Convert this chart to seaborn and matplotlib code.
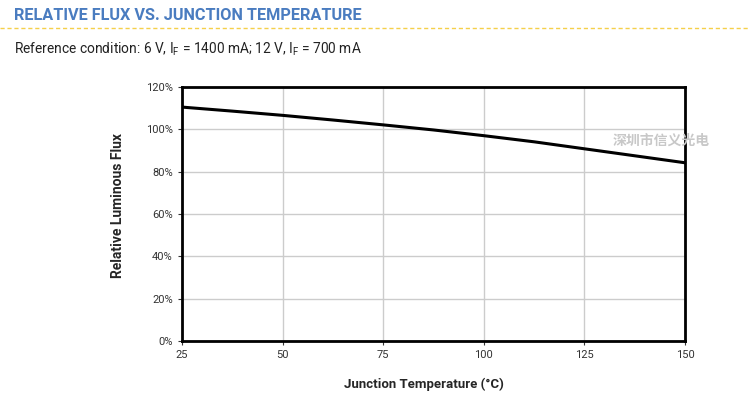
import matplotlib
matplotlib.use('Agg')
import matplotlib.pyplot as plt
import pandas as pd
import seaborn as sns
from matplotlib.lines import Line2D
from matplotlib.ticker import PercentFormatter

# Data
temperature = [25, 37.5, 50, 62.5, 75, 87.5, 100, 112.5, 125, 137.5, 150]
rel_flux = [110.5, 108.6, 106.6, 104.4, 102.1, 99.7, 97.0, 94.1, 90.8, 87.5, 84.2]
x_ticks = [25, 50, 75, 100, 125, 150]
y_ticks = [0, 20, 40, 60, 80, 100, 120]

df = pd.DataFrame({'temp': temperature, 'flux': rel_flux})

sns.set_style('white')
plt.rcParams['font.family'] = ['Roboto', 'DejaVu Sans']

fig = plt.figure(figsize=(7.5, 4.17), dpi=100)
ax = fig.add_axes([0.2427, 0.1823, 0.6706, 0.6091])

sns.lineplot(data=df, x='temp', y='flux', ax=ax, color='black', linewidth=2.2)

ax.set_xlim(25, 150)
ax.set_ylim(0, 120)
ax.set_xticks(x_ticks)
ax.set_yticks(y_ticks)
ax.yaxis.set_major_formatter(PercentFormatter(decimals=0))
ax.grid(True, color='#cccccc', linewidth=1)
ax.tick_params(axis='both', labelsize=8, colors='#333333', length=3, width=0.8,
               direction='out', bottom=True, left=True)
for s in ax.spines.values():
    s.set_color('black')
    s.set_linewidth(2)

ax.set_xlabel('Junction Temperature (°C)', fontsize=9.5, fontweight='bold')
ax.set_ylabel('Relative Luminous Flux', fontsize=10, fontweight='bold')
ax.xaxis.set_label_coords(0.481, -0.169)
ax.yaxis.set_label_coords(-0.127, 0.535)
ax.xaxis.label.set_va('center')
ax.yaxis.label.set_va('center')

# header
fig.text(14 / 750, 1 - 15 / 417, 'RELATIVE FLUX VS. JUNCTION TEMPERATURE',
         fontsize=11.7, fontweight='bold', color='#4a7cc0', va='center', ha='left')
fig.add_artist(Line2D([0.0, 1.0], [1 - 28 / 417, 1 - 28 / 417], transform=fig.transFigure,
                      color='#f5d04a', linewidth=1, linestyle=(0, (3, 2))))
fig.text(14 / 750, 1 - 49 / 417,
         r'Reference condition: 6 V, I$_\mathregular{F}$ = 1400 mA; 12 V, I$_\mathregular{F}$ = 700 mA',
         fontsize=9.9, color='#222222', va='center', ha='left')

# watermark
fig.text(613 / 750, 1 - 141 / 417, '深圳市信义光电', fontsize=10, fontweight='bold',
         color='#c8c8c8', va='center', ha='left', family=['Noto Sans CJK SC', 'DejaVu Sans'])

fig.savefig('out.png', dpi=100)
